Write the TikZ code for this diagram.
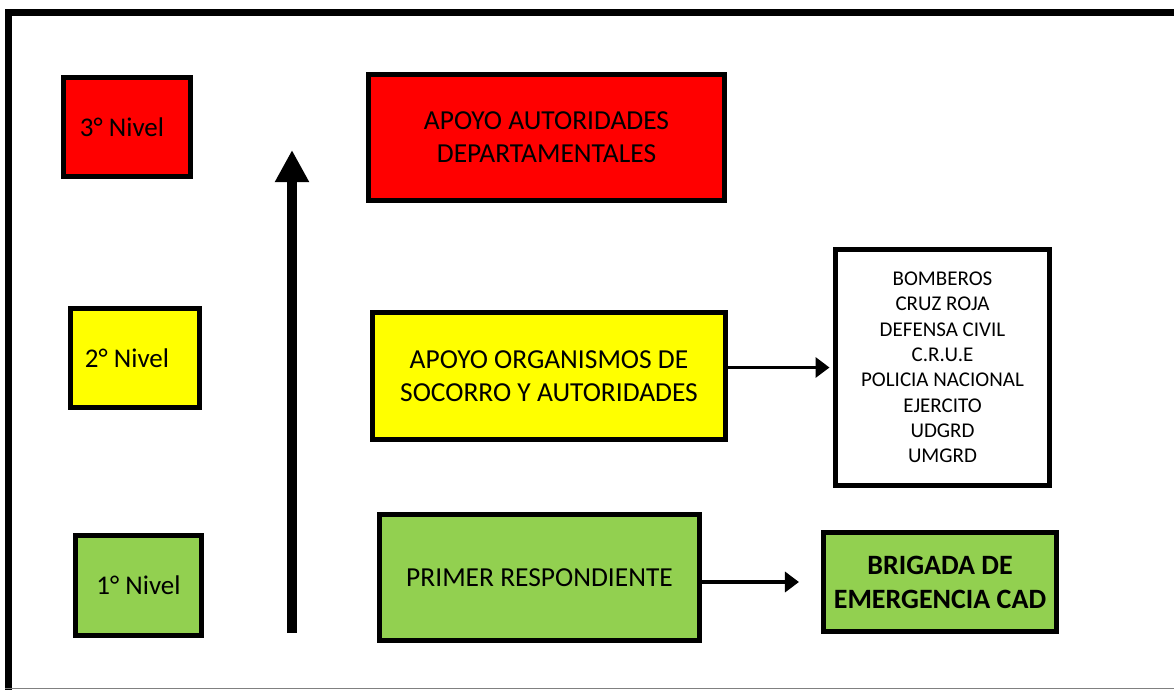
\documentclass[tikz,border=0pt]{standalone}
\usepackage{fontspec}
\setmainfont{Carlito}
\usetikzlibrary{arrows.meta,calc}
\definecolor{lvred}{HTML}{FF0000}
\definecolor{lvyellow}{HTML}{FFFF00}
\definecolor{lvgreen}{HTML}{92D050}
\tikzset{
  box/.style={draw=black, line width=3.75pt, inner sep=0pt, outer sep=0pt, align=center, text=black},
  nivel/.style={box, font=\fontsize{20.25pt}{24pt}\selectfont},
  bigbox/.style={box, font=\fontsize{20.6pt}{24.75pt}\selectfont},
  listbox/.style={box, fill=white, font=\fontsize{15.75pt}{19pt}\selectfont},
  conn/.style={line width=2.6pt, -{Triangle[length=10.5pt,width=15pt]}},
  bigarrow/.style={line width=7.5pt, -{Triangle[length=24pt,width=24pt]}}
}
\begin{document}
\begin{tikzpicture}[x=0.75pt,y=-0.75pt]
\useasboundingbox (0,0) rectangle (1174,690);
% outer frame
\coordinate (fTL) at (5,12.5);
\coordinate (fTR) at (1174,12.5);
\coordinate (fLT) at (8.5,9);
\coordinate (fLB) at (8.5,690);
\coordinate (fBL) at (5,688.5);
\coordinate (fBR) at (1174,688.5);
\draw[line width=5.25pt] (fTL) -- (fTR);
\draw[line width=5.25pt] (fLT) -- (fLB);
\draw[line width=0.9pt, gray] (fBL) -- (fBR);
% level boxes
\node[nivel, fill=lvred, minimum width=95.25pt, minimum height=74.25pt] (n3) at (127,127) {\hspace*{-7.5pt}3° Nivel};
\node[nivel, fill=lvyellow, minimum width=96.75pt, minimum height=74.25pt] (n2) at (135,358) {\hspace*{-12pt}2° Nivel};
\node[nivel, fill=lvgreen, minimum width=94.5pt, minimum height=75pt] (n1) at (138.5,585.5) {1° Nivel};
% vertical arrow
\coordinate (vb) at (292,633);
\coordinate (vt) at (292,150);
\draw[bigarrow] (vb) -- (vt);
% main boxes
\node[bigbox, fill=lvred, minimum width=267pt, minimum height=94.5pt] (dep) at (546.5,137.5) {APOYO AUTORIDADES\\DEPARTAMENTALES};
\node[bigbox, fill=lvyellow, minimum width=264.75pt, minimum height=95.25pt] (soc) at (549,376) {APOYO ORGANISMOS DE\\SOCORRO Y AUTORIDADES};
\node[bigbox, fill=lvgreen, minimum width=240pt, minimum height=94.5pt] (pri) at (539.5,577.5) {PRIMER RESPONDIENTE};
\node[listbox, minimum width=160.5pt, minimum height=177pt] (lst) at (942.5,367.5) {BOMBEROS\\CRUZ ROJA\\DEFENSA CIVIL\\C.R.U.E\\POLICIA NACIONAL\\EJERCITO\\UDGRD\\UMGRD};
\node[box, fill=lvgreen, font=\bfseries\fontsize{21pt}{25.5pt}\selectfont, minimum width=174.75pt, minimum height=74.25pt] (bri) at (940,582) {BRIGADA DE\\EMERGENCIA CAD};
% connectors
\draw[conn, shorten >=4.5pt] (soc.east |- lst.west) -- (lst.west);
\draw[conn, shorten >=18.4pt] (pri.east |- bri.west) -- (bri.west);
\end{tikzpicture}
\end{document}
